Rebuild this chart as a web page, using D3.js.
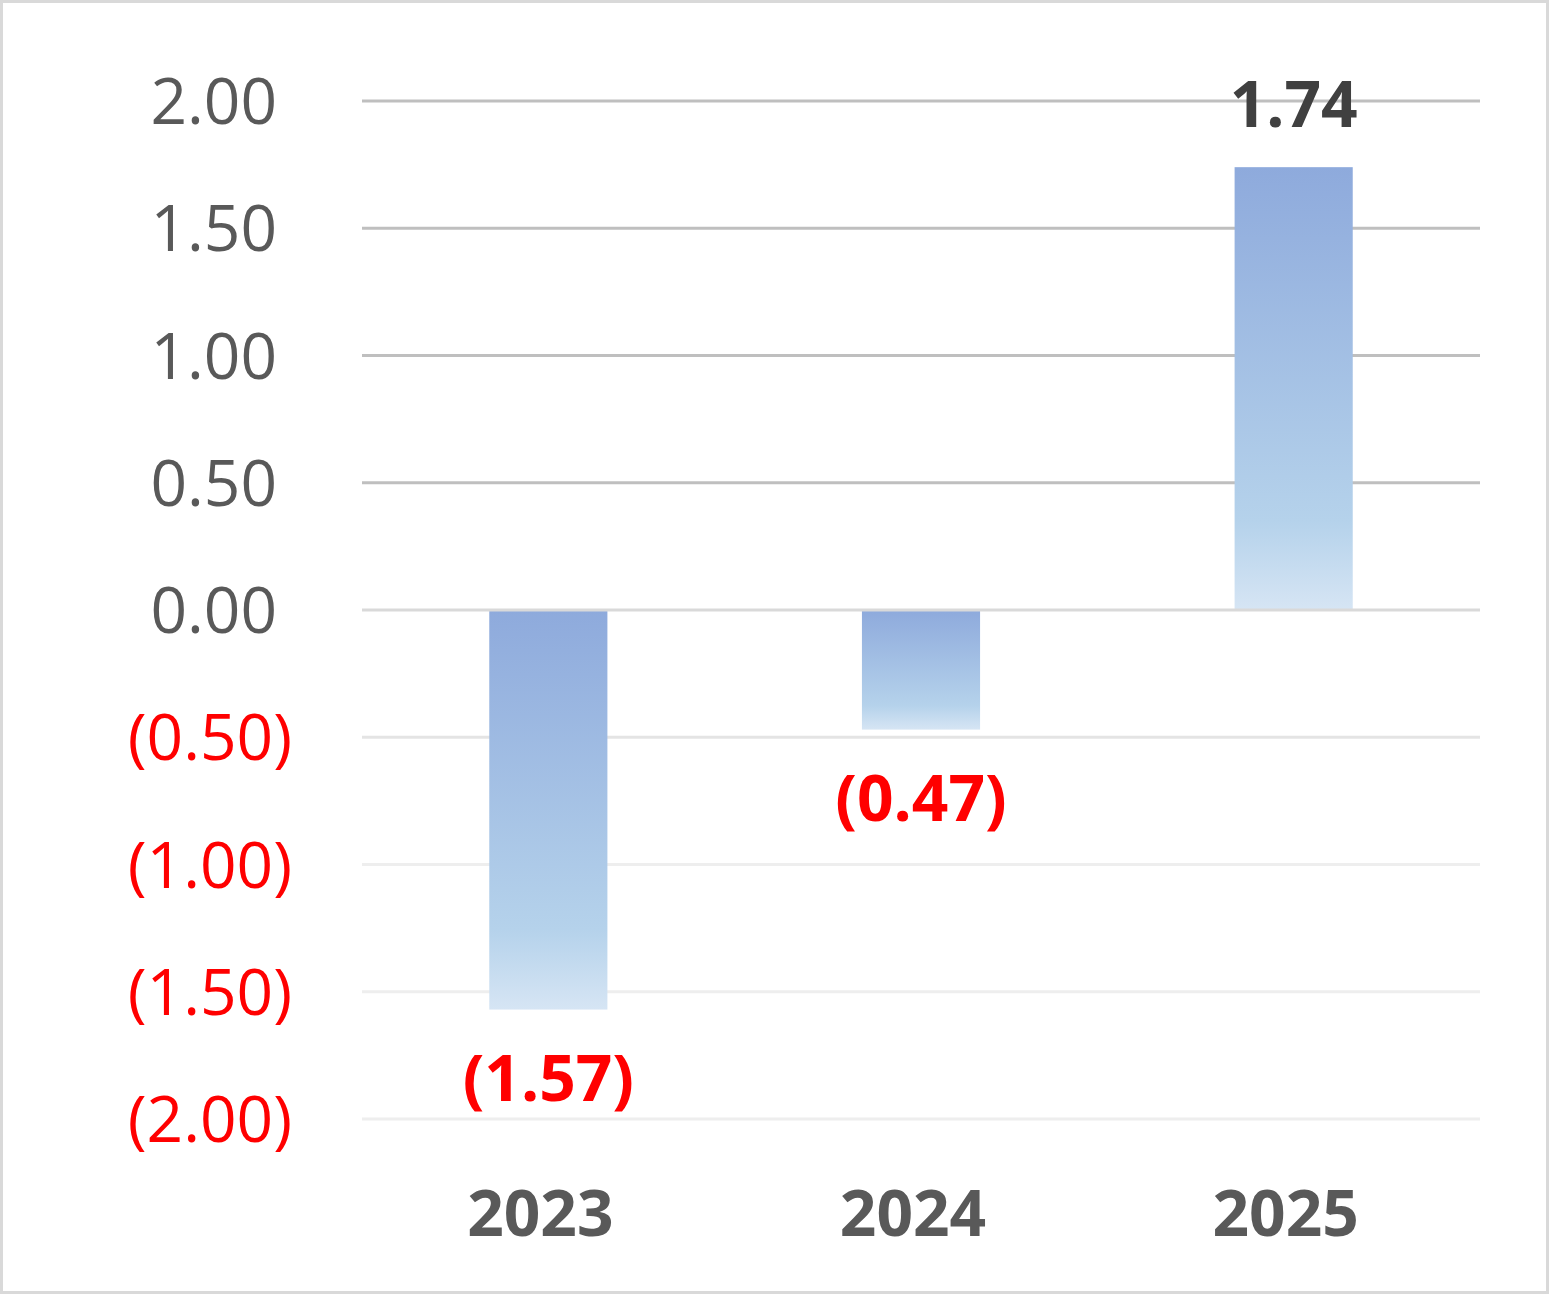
<!DOCTYPE html>
<html>
<head>
<meta charset="utf-8">
<script src="https://cdn.jsdelivr.net/npm/d3@7"></script>
<style>
  body { margin: 0; background: #fff; }
  text { font-family: "Open Sans", "Noto Sans", sans-serif; }
</style>
</head>
<body>
<script>
const years = ['2023', '2024', '2025']
const values = [-1.57, -0.47, 1.74]
const ticks = [2, 1.5, 1, 0.5, 0, -0.5, -1, -1.5, -2]

const WIDTH = 1549
const HEIGHT = 1294
const svg = d3.select('body').append('svg').attr('width', WIDTH).attr('height', HEIGHT)

// cadre
svg.append('rect')
  .attr('x', 1.5).attr('y', 1.5)
  .attr('width', WIDTH - 3).attr('height', HEIGHT - 3)
  .attr('fill', '#fff').attr('stroke', '#d9d9d9').attr('stroke-width', 3)

const x = d3.scaleBand().domain(years).range([362, 1480]).padding(0)
const y = d3.scaleLinear().domain([-2, 2]).range([1119, 101])
const BAR_WIDTH = x.bandwidth() * 0.317

const fmt = d => d < 0 ? '(' + d3.format('.2f')(-d) + ')' : d3.format('.2f')(d)

// dégradé des barres
const grad = svg.append('defs').append('linearGradient')
  .attr('id', 'barGrad').attr('x1', 0).attr('y1', 0).attr('x2', 0).attr('y2', 1)
grad.append('stop').attr('offset', 0).attr('stop-color', '#8eaadc')
grad.append('stop').attr('offset', 0.8).attr('stop-color', '#b5d2eb')
grad.append('stop').attr('offset', 1).attr('stop-color', '#d6e5f4')

const gridColor = d => d > 0 ? '#bfbfbf' : d === 0 ? '#d9d9d9' : d === -0.5 ? '#e4e4e4' : '#eeeeee'

svg.selectAll('line.grid')
  .data(ticks.filter(d => d !== 0))
  .enter()
  .append('line')
  .attr('class', 'grid')
  .attr('x1', 362).attr('x2', 1480)
  .attr('y1', d => y(d)).attr('y2', d => y(d))
  .attr('stroke', gridColor).attr('stroke-width', 3)

svg.selectAll('rect.bar')
  .data(values)
  .enter()
  .append('rect')
  .attr('class', 'bar')
  .attr('x', (d, i) => x(years[i]) + (x.bandwidth() - BAR_WIDTH) / 2)
  .attr('width', BAR_WIDTH)
  .attr('y', d => y(Math.max(0, d)))
  .attr('height', d => Math.abs(y(d) - y(0)))
  .attr('fill', 'url(#barGrad)')

// ligne zéro par-dessus
svg.append('line')
  .attr('x1', 362).attr('x2', 1480)
  .attr('y1', y(0)).attr('y2', y(0))
  .attr('stroke', gridColor(0)).attr('stroke-width', 3)

// axe y
svg.selectAll('text.tick')
  .data(ticks)
  .enter()
  .append('text')
  .attr('class', 'tick')
  .attr('x', d => d < 0 ? 292 : 277)
  .attr('y', d => y(d) + 23)
  .attr('text-anchor', 'end')
  .attr('font-size', 64)
  .attr('fill', d => d < 0 ? '#ff0000' : '#595959')
  .text(fmt)

// étiquettes de données
svg.selectAll('text.label')
  .data(values)
  .enter()
  .append('text')
  .attr('class', 'label')
  .attr('x', (d, i) => x(years[i]) + x.bandwidth() / 2)
  .attr('y', d => d < 0 ? y(d) + 91 : y(d) - 40)
  .attr('text-anchor', 'middle')
  .attr('font-size', 64)
  .attr('font-weight', 'bold')
  .attr('fill', d => d < 0 ? '#ff0000' : '#404040')
  .text(fmt)

// axe x
svg.selectAll('text.year')
  .data(years)
  .enter()
  .append('text')
  .attr('class', 'year')
  .attr('x', d => x(d) + x.bandwidth() / 2 - 8)
  .attr('y', 1236)
  .attr('text-anchor', 'middle')
  .attr('font-size', 64)
  .attr('font-weight', 'bold')
  .attr('fill', '#595959')
  .text(d => d)
</script>
</body>
</html>
